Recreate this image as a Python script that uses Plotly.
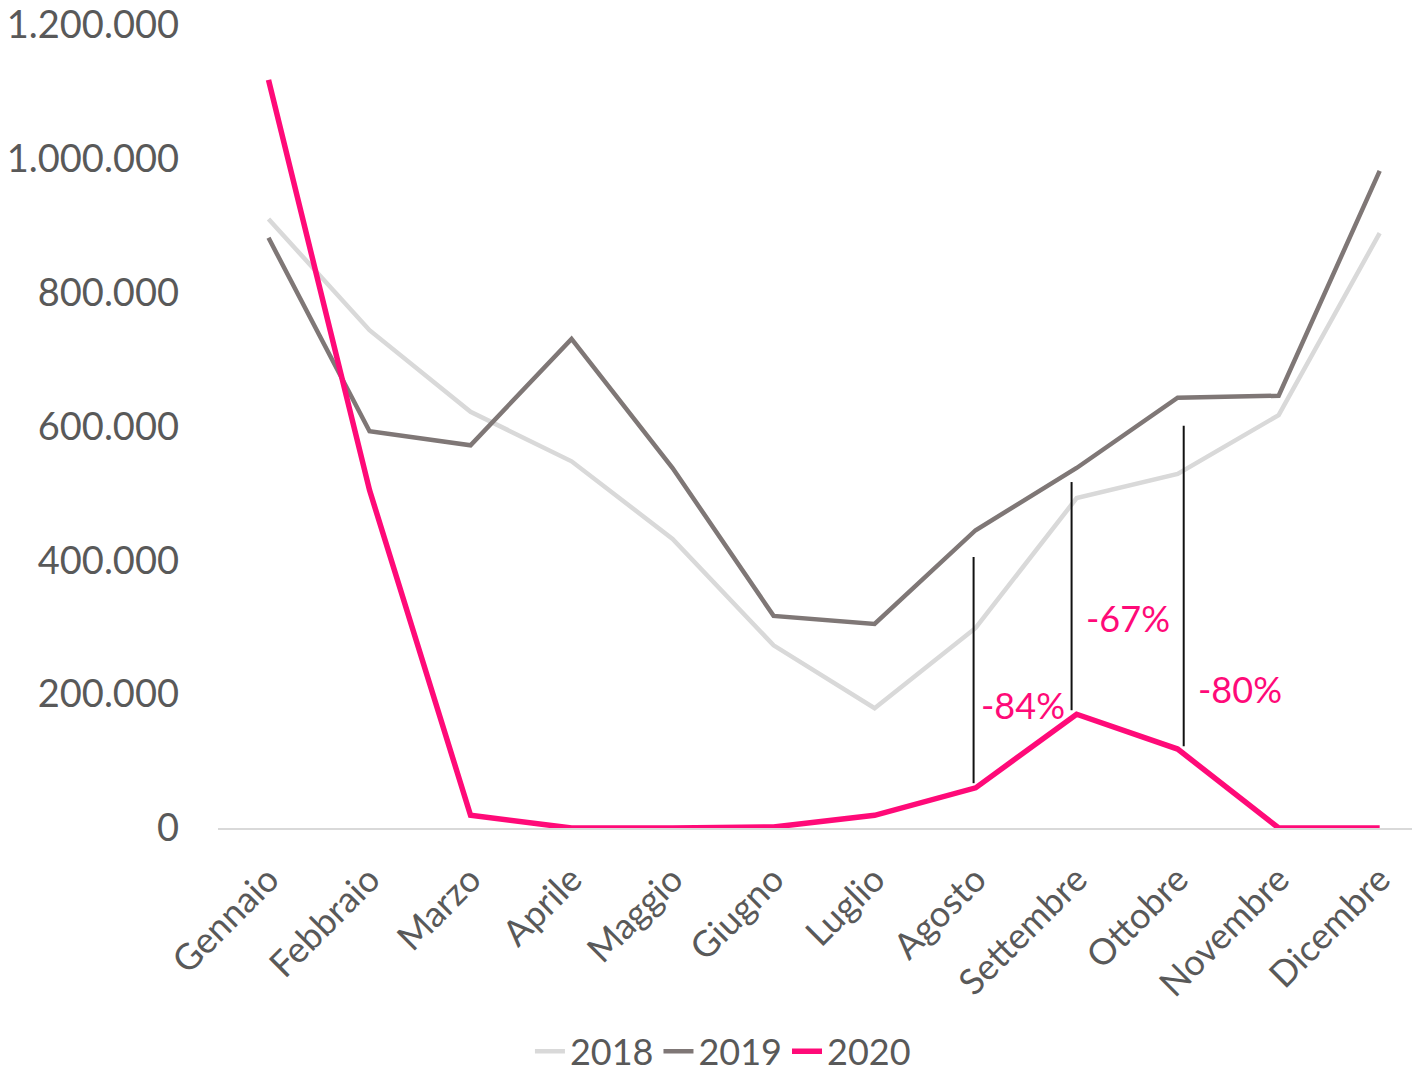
import plotly.graph_objects as go

months = ["Gennaio", "Febbraio", "Marzo", "Aprile", "Maggio", "Giugno",
          "Luglio", "Agosto", "Settembre", "Ottobre", "Novembre", "Dicembre"]
v2018 = [910000, 744000, 622000, 548000, 432000, 273000, 179000, 299000, 493000, 529000, 617000, 889000]
v2019 = [882000, 593000, 572000, 731000, 538000, 317000, 305000, 445000, 538000, 643000, 646000, 982000]
v2020 = [1118000, 505000, 19000, 0, 0, 1500, 19000, 60000, 170000, 118000, 0, 0]
change_labels = ["-84%", "-67%", "-80%"]

FONT = "Lato"
GREY = "#595959"

fig = go.Figure()
x_idx = list(range(len(months)))
fig.add_trace(go.Scatter(x=x_idx, y=v2018, name="2018", mode="lines",
                         line=dict(color="#D9D9D9", width=4.5)))
fig.add_trace(go.Scatter(x=x_idx, y=v2019, name="2019", mode="lines",
                         line=dict(color="#7F7776", width=4.5)))
fig.add_trace(go.Scatter(x=x_idx, y=v2020, name="2020", mode="lines",
                         line=dict(color="#FF0A78", width=5.5)))

# vertical comparison lines
vlines = [(6.98, 67000, 405000), (7.95, 176000, 517000), (9.06, 122000, 601000)]
for x, y0, y1 in vlines:
    fig.add_shape(type="line", x0=x, x1=x, y0=y0, y1=y1, xref="x", yref="y",
                  line=dict(color="#111111", width=2))

label_pos = [(7.47, 184000), (8.51, 314000), (9.62, 208000)]
for (x, y), t in zip(label_pos, change_labels):
    fig.add_annotation(x=x, y=y, text=t, showarrow=False,
                       font=dict(family=FONT, size=36, color="#FF0A78"))

fig.update_layout(
    width=1412, height=1076,
    margin=dict(l=218, r=0, t=25, b=248, autoexpand=False),
    paper_bgcolor="white", plot_bgcolor="white",
    font=dict(family=FONT, color=GREY),
    showlegend=True,
    legend=dict(orientation="h", x=0.512, xref="container", xanchor="center",
                y=0.023, yref="container", yanchor="middle",
                font=dict(family=FONT, size=36, color=GREY),
                itemwidth=30, tracegroupgap=0),
)
fig.update_xaxes(
    range=[-0.5, 11.32], tickmode="array", tickvals=x_idx, ticktext=months,
    tickangle=-45, tickfont=dict(family=FONT, size=36, color=GREY),
    showgrid=False, showline=True, linecolor="#D9D9D9", linewidth=2,
    ticks="", zeroline=False, ticklabelstandoff=14,
)
fig.update_yaxes(
    range=[0, 1200000], tickvals=[0, 200000, 400000, 600000, 800000, 1000000, 1200000],
    ticktext=["0", "200.000", "400.000", "600.000", "800.000", "1.000.000", "1.200.000"],
    tickfont=dict(family=FONT, size=38, color=GREY),
    showgrid=False, zeroline=False, showline=False, ticks="",
    ticklabelstandoff=38, ticklabeloverflow="allow",
)

fig.write_html("out.html", config={"displayModeBar": False},
               post_script="document.body.style.margin='0';")
